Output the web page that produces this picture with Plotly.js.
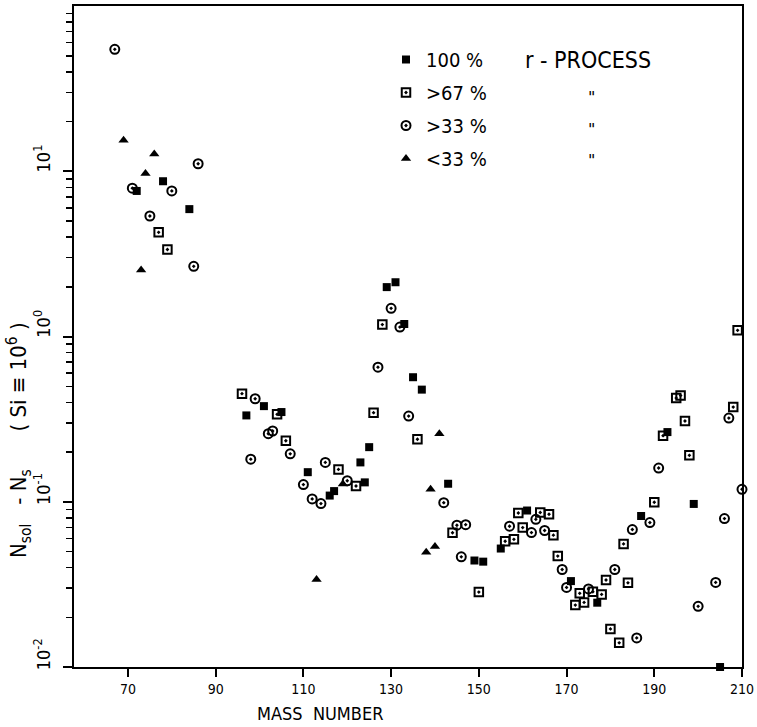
<!DOCTYPE html>
<html>
<head>
<meta charset="utf-8">
<script src="https://cdn.plot.ly/plotly-3.0.1.min.js"></script>
<style>
  html, body { margin: 0; padding: 0; background: #fff; }
  #chart { width: 757px; height: 727px; }
</style>
</head>
<body>
<div id="chart"></div>
<script>
// ---- data ----
// 100 % r-process (filled squares)
const massFull = [72, 78, 84, 97, 101, 105, 111, 116, 117, 123, 124, 125, 129, 131, 133, 135, 137, 143, 149, 151, 155, 161, 171, 177, 187, 193, 199, 205];
const valFull  = [7.6, 8.7, 5.9, 0.333, 0.379, 0.349, 0.151, 0.109, 0.116, 0.173, 0.131, 0.214, 1.99, 2.13, 1.19, 0.567, 0.477, 0.1285, 0.0441, 0.0434, 0.0521, 0.0885, 0.0331, 0.0245, 0.082, 0.264, 0.097, 0.01];

// > 67 % r-process (open squares)
const mass67 = [77, 79, 96, 104, 106, 118, 122, 126, 128, 136, 144, 150, 156, 158, 159, 160, 164, 166, 167, 168, 172, 173, 174, 176, 178, 179, 180, 182, 183, 184, 190, 192, 195, 196, 197, 198, 208, 209];
const val67  = [4.27, 3.36, 0.451, 0.338, 0.234, 0.157, 0.1246, 0.346, 1.18, 0.239, 0.0649, 0.0284, 0.0577, 0.0592, 0.0855, 0.0698, 0.0861, 0.084, 0.0628, 0.0469, 0.0237, 0.0279, 0.0246, 0.0285, 0.0275, 0.0336, 0.017, 0.014, 0.0556, 0.0323, 0.0993, 0.251, 0.424, 0.44, 0.308, 0.191, 0.374, 1.09];

// > 33 % r-process (open circles)
const mass33 = [67, 71, 75, 80, 85, 86, 98, 99, 102, 103, 107, 110, 112, 114, 115, 120, 127, 130, 132, 134, 142, 145, 146, 147, 157, 162, 163, 165, 169, 170, 175, 181, 185, 186, 189, 191, 200, 204, 206, 207, 210];
const val33  = [54.7, 7.9, 5.36, 7.6, 2.66, 11.1, 0.181, 0.42, 0.258, 0.268, 0.195, 0.127, 0.104, 0.0975, 0.173, 0.134, 0.652, 1.48, 1.14, 0.33, 0.0987, 0.0721, 0.0464, 0.0727, 0.0711, 0.0651, 0.0783, 0.067, 0.0389, 0.0303, 0.0297, 0.0389, 0.0679, 0.015, 0.0748, 0.16, 0.0233, 0.0325, 0.0791, 0.321, 0.119];

// < 33 % r-process (triangles)
const massLow = [69, 73, 74, 76, 113, 119, 138, 139, 140, 141];
const valLow  = [15.4, 2.53, 9.7, 12.7, 0.0339, 0.128, 0.0494, 0.119, 0.0536, 0.258];

// axis labels
const xTickVals = [70, 90, 110, 130, 150, 170, 190, 210];
const xTickText = ['70', '90', '110', '130', '150', '170', '190', '210'];
const yTickVals = [0.01, 0.1, 1, 10];
const yTickText = ['10<sup>-2</sup>', '10<sup>-1</sup>', '10<sup>0</sup>', '10<sup>1</sup>'];
const seriesNames = ['100 %', '&gt;67 %', '&gt;33 %', '&lt;33 %'];

// ---- layout helpers ----
const W = 757, H = 727;
const M = { l: 74, r: 15, t: 6, b: 60 };
const PW = W - M.l - M.r, PH = H - M.t - M.b;
const px = x => (x - M.l) / PW;
const py = y => 1 - (y - M.t) / PH;

const minorVals = [];
[-2, -1, 0, 1].forEach(d => { for (let k = 2; k <= 9; k++) minorVals.push(k * Math.pow(10, d)); });

const common = { type: 'scatter', mode: 'markers', cliponaxis: false, hoverinfo: 'x+y' };
const traces = [
  Object.assign({}, common, { x: massFull, y: valFull, name: seriesNames[0], legendgroup: 'a',
    marker: { symbol: 'square', size: 8, color: '#000' } }),
  Object.assign({}, common, { x: mass67, y: val67, name: seriesNames[1], legendgroup: 'b',
    marker: { symbol: 'square-open-dot', size: 8.5, color: '#000', line: { width: 2, color: '#000' } } }),
  Object.assign({}, common, { x: mass33, y: val33, name: seriesNames[2], legendgroup: 'c',
    marker: { symbol: 'circle-open-dot', size: 9, color: '#000', line: { width: 2, color: '#000' } } }),
  Object.assign({}, common, { x: massLow, y: valLow, name: seriesNames[3], legendgroup: 'd',
    marker: { symbol: 'triangle-up', size: 9, color: '#000' } })
];

const FONT = 'DejaVu Sans Condensed, Liberation Sans Narrow, DejaVu Sans, sans-serif';

const layout = {
  width: W, height: H,
  margin: M,
  paper_bgcolor: '#fff', plot_bgcolor: '#fff',
  font: { family: FONT, color: '#000', size: 15 },
  showlegend: true,
  legend: {
    x: px(386), y: py(40), xanchor: 'left', yanchor: 'top',
    font: { family: FONT, size: 20, color: '#000' },
    bgcolor: 'rgba(0,0,0,0)', borderwidth: 0,
    tracegroupgap: 4, itemwidth: 30
  },
  xaxis: {
    range: [57.7, 210],
    tickmode: 'array', tickvals: xTickVals, ticktext: xTickText,
    ticks: 'outside', ticklen: 8, tickwidth: 2, tickcolor: '#000',
    showline: true, linewidth: 2, linecolor: '#000', mirror: true,
    showgrid: false, zeroline: false,
    tickfont: { family: FONT, size: 14, color: '#000' },
    ticklabelstandoff: 0
  },
  yaxis: {
    type: 'log', range: [-2, 2],
    tickmode: 'array', tickvals: yTickVals, ticktext: yTickText,
    tickangle: -90,
    ticks: 'outside', ticklen: 9, tickwidth: 2, tickcolor: '#000',
    minor: { tickmode: 'array', tickvals: minorVals, ticks: 'outside', ticklen: 6, tickwidth: 1.5, tickcolor: '#000', showgrid: false },
    showline: true, linewidth: 2, linecolor: '#000', mirror: true,
    showgrid: false, zeroline: false,
    tickfont: { family: FONT, size: 18, color: '#000' },
    ticklabelstandoff: 6,
    ticklabelshift: -10
  },
  annotations: [
    { text: 'r - PROCESS', xref: 'paper', yref: 'paper', x: px(588), y: py(60), xanchor: 'center', yanchor: 'middle',
      showarrow: false, font: { family: FONT, size: 23, color: '#000' } },
    { text: '"', xref: 'paper', yref: 'paper', x: px(591), y: py(97), xanchor: 'center', yanchor: 'middle',
      showarrow: false, font: { family: 'DejaVu Sans', size: 16, color: '#000' } },
    { text: '"', xref: 'paper', yref: 'paper', x: px(591), y: py(129), xanchor: 'center', yanchor: 'middle',
      showarrow: false, font: { family: 'DejaVu Sans', size: 16, color: '#000' } },
    { text: '"', xref: 'paper', yref: 'paper', x: px(591), y: py(161), xanchor: 'center', yanchor: 'middle',
      showarrow: false, font: { family: 'DejaVu Sans', size: 16, color: '#000' } },
    { text: 'MASS  NUMBER', xref: 'paper', yref: 'paper', x: px(320), y: py(713), xanchor: 'center', yanchor: 'middle',
      showarrow: false, font: { family: FONT, size: 18, color: '#000' } },
    { text: 'N<sub>sol</sub>\u00a0\u00a0\u00a0- N<sub>s</sub>\u00a0\u00a0\u00a0\u00a0\u00a0\u00a0( Si \u2261 10<sup>6</sup> )', xref: 'paper', yref: 'paper',
      x: px(19), y: py(440), xanchor: 'center', yanchor: 'middle', textangle: -90,
      showarrow: false, font: { family: FONT, size: 22, color: '#000' } }
  ]
};

Plotly.newPlot('chart', traces, layout, { displayModeBar: false, staticPlot: true });
</script>
</body>
</html>
